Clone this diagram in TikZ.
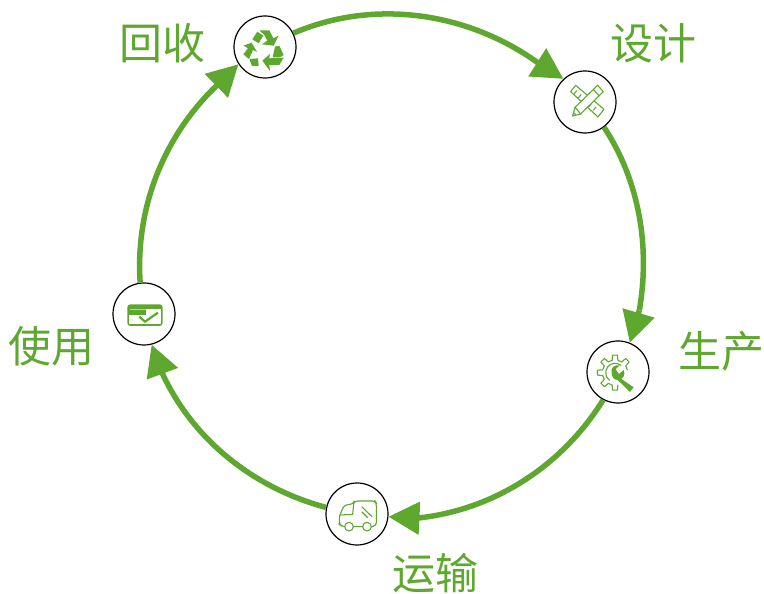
\documentclass[tikz,border=0pt]{standalone}
\usepackage{fontspec}
\usetikzlibrary{arrows.meta}
\newfontfamily\cjkf{Noto Sans CJK SC}
\definecolor{leaf}{HTML}{5FA830}
\tikzset{
  x=1pt,y=1pt,
  stage/.style={circle,draw=black,line width=1.2pt,fill=white,minimum size=62pt,inner sep=0pt},
  flow/.style={draw=leaf,line width=5.5pt},
  flowtip/.style={draw=leaf,line width=5.5pt,-{Triangle[length=31pt,width=32pt,fill=leaf]}},
  caption/.style={text=leaf,font=\cjkf\fontsize{43pt}{43pt}\selectfont,inner sep=0pt},
  thin icon/.style={draw=leaf,line width=1.1pt,line join=round,line cap=round},
}
\begin{document}
\begin{tikzpicture}
\useasboundingbox (0,0) rectangle (764,594);
\node[stage] (recycle) at (265,547) {};
\node[stage] (design) at (585,492) {};
\node[stage] (make) at (618,222) {};
\node[stage] (ship) at (357,80) {};
\node[stage] (use) at (144,280) {};
\coordinate (g1) at ([shift=(54.4:252)]391,326.5);
\coordinate (g2) at ([shift=(-9.8:252)]391,326.5);
\coordinate (g3) at ([shift=(276:252)]391,326.5);
\coordinate (g4) at ([shift=(204.8:252)]391,326.5);
\coordinate (g5) at ([shift=(134.2:252)]391,326.5);
\draw[flow] (recycle.26.7) to[out=23.2,in=144.4,looseness=0.91] (g1);
\draw[flowtip] (g1) -- (design.133.9);
\draw[flow] (design.-53.1) to[out=-56.6,in=80.2,looseness=0.884] (g2);
\draw[flowtip] (g2) -- (make.68.7);
\draw[flow] (make.-118.3) to[out=-121.8,in=6,looseness=0.897] (g3);
\draw[flowtip] (g3) -- (ship.355.5);
\draw[flow] (ship.168.5) to[out=165,in=294.8,looseness=0.895] (g4);
\draw[flowtip] (g4) -- (use.284.3);
\draw[flow] (use.97.3) to[out=93.8,in=224.2,looseness=0.895] (g5);
\draw[flowtip] (g5) -- (recycle.213.7);
\node[caption] (t1) at (162,551) {回收};
\node[caption] (t2) at (653,551) {设计};
\node[caption] (t3) at (721,243) {生产};
\node[caption] (t4) at (435,20.5) {运输};
\node[caption] (t5) at (51.5,248) {使用};
% recycle icon
\begin{scope}[shift={(220,589)},x=0.3333pt,y=-0.3333pt]
\fill[leaf] (97,103)--(112,80)--(130,92)--(116,115)--cycle;
\fill[leaf] (118,76)--(148,76)--(160,100)--(176,92)--(161,122)--(126,118)--(142,107)--(133,90)--cycle;
\fill[leaf] (70,122)--(95,113)--(111,141)--(99,135)--(87,162)--(70,148)--(84,130)--(76,125)--cycle;
\fill[leaf] (88,162)--(114,160)--(116,183)--(96,183)--cycle;
\fill[leaf] (165,125)--(178,122)--(191,150)--(180,157)--(158,157)--cycle;
\fill[leaf] (127,167)--(150,147)--(148,160)--(191,158)--(178,180)--(148,180)--(150,198)--cycle;
\end{scope}
% pencil and ruler icon
\begin{scope}[shift={(530,544)},x=0.3333pt,y=-0.3333pt]
\draw[thin icon] (122,125)--(137,106)--(222,178)--(204,201)--cycle;
\foreach \a/\b in {140/122,153/134}{\draw[thin icon] (\a,\b)--++(-8,10);}
\foreach \a/\b in {185/160,198/171}{\draw[thin icon] (\a,\b)--++(-8,10);}
\draw[thin icon,fill=white] (128,198)--(135,172)--(203,106)--(220,125)--(152,192)--cycle;
\draw[thin icon] (135,172)--(152,192) (190,118)--(208,138) (132,190)--(137,193);
\end{scope}
% gear and wrench icon
\begin{scope}[shift={(595,244)},x=0.3333pt,y=-0.3333pt]
\foreach \a in {-270,-225,-180,-135,-90,-45}{
  \draw[thin icon] ([shift=({\a-13}:38)]60,68) -- ([shift=({\a-8}:53)]60,68) -- ([shift=({\a+8}:53)]60,68) -- ([shift=({\a+13}:38)]60,68) -- ([shift=({\a+32}:38)]60,68);
}
\draw[thin icon] ([shift=(-50:28)]60,68) arc[start angle=-50,end angle=-235,radius=28];
\path[fill=leaf] (50,68) .. controls (46,52) and (60,44) .. (74,46) -- (62,58) -- (72,72) -- (86,60) .. controls (92,74) and (84,86) .. (78,86) -- (116,112) -- (105,126) -- (68,90) .. controls (56,90) and (50,80) .. (50,68) -- cycle;
\end{scope}
% truck icon
\begin{scope}[shift={(315,119)},x=0.3333pt,y=-0.3333pt]
\draw[thin icon,rounded corners=3pt] (88,155)--(78,152)--(73,148)--(73,123)--(88,90)--(115,87)--(118,78)--(180,78)--(184,84)--(184,152)--(170,155);
\draw[thin icon] (116,155)--(142,155) (116,88)--(113,118)--(76,120);
\draw[thin icon] (102,155) circle[radius=13] (156,155) circle[radius=13];
\draw[thin icon] (141,96)--(171,125) (141,111)--(158,128);
\end{scope}
% card icon
\begin{scope}[shift={(100,324)},x=0.3333pt,y=-0.3333pt]
\fill[leaf,rounded corners=3pt] (82,103) rectangle (188,168);
\fill[white] (88,135) rectangle (182,162);
\fill[white] (137,116) rectangle (182,136);
\fill[leaf!45] (90,116) rectangle (137,121);
\draw[leaf,line width=2.2pt] (118,140)--(135,155)--(174,128);
\end{scope}
\end{tikzpicture}
\end{document}
